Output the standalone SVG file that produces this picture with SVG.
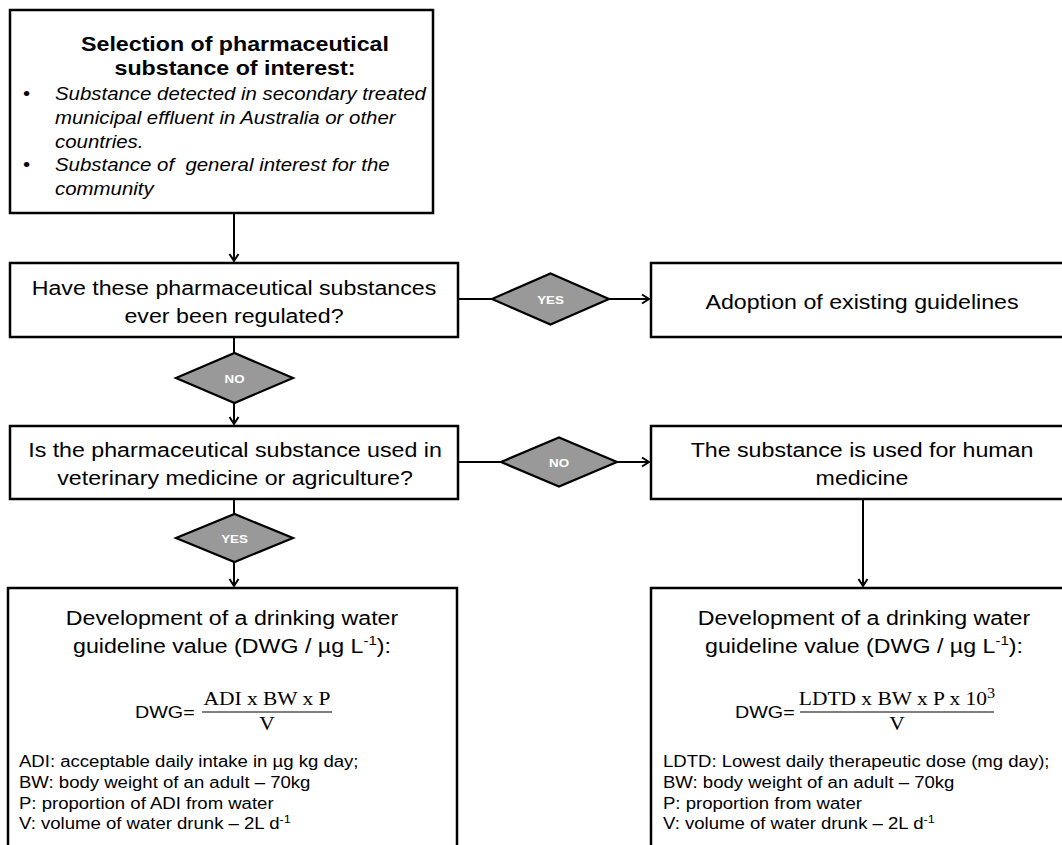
<svg xmlns="http://www.w3.org/2000/svg" width="1062" height="845" viewBox="0 0 1062 845">
<style>
.box{fill:#fff;stroke:#000;stroke-width:2.5}
.dia{fill:#999;stroke:#000;stroke-width:2.2}
.t{font-family:"Liberation Sans",Arial,sans-serif;font-size:20px;fill:#000}
.c{text-anchor:middle}
.b{font-weight:bold}
.i{font-style:italic;font-size:17.6px}
.lbl{font-family:"Liberation Sans",Arial,sans-serif;font-size:11.5px;font-weight:bold;fill:#fff;text-anchor:middle}
.d{font-family:"Liberation Sans",Arial,sans-serif;font-size:16px;fill:#000}
.f{font-family:"Liberation Sans",Arial,sans-serif;font-size:17px;fill:#000}
.s{font-family:"Liberation Serif","Times New Roman",serif;font-size:18.5px;fill:#000;text-anchor:middle}
.con{fill:none;stroke:#000;stroke-width:2}
.bar{stroke:#000;stroke-width:1.2}
</style>
<defs>
<marker id="arr" markerWidth="12" markerHeight="12" refX="9" refY="6" orient="auto" markerUnits="userSpaceOnUse">
<path d="M2,1.5 L9,6 L2,10.5" fill="none" stroke="#000" stroke-width="2"/>
</marker>
</defs>

<g id="connectors">
<path class="con" d="M234,213 V261" marker-end="url(#arr)"/>
<path class="con" d="M458,299 H492"/>
<path class="con" d="M609,299 H649" marker-end="url(#arr)"/>
<path class="con" d="M234,337 V353"/>
<path class="con" d="M234,403 V424" marker-end="url(#arr)"/>
<path class="con" d="M458,462 H501"/>
<path class="con" d="M617,462 H649" marker-end="url(#arr)"/>
<path class="con" d="M234,499 V514"/>
<path class="con" d="M234,562 V586" marker-end="url(#arr)"/>
<path class="con" d="M863,499 V586" marker-end="url(#arr)"/>
</g>

<g id="node-selection">
<rect class="box" x="10" y="10" width="423" height="203"/>
<text class="t c b" transform="translate(235,51) scale(1.16,1)">Selection of pharmaceutical</text>
<text class="t c b" transform="translate(235,75) scale(1.16,1)">substance of interest:</text>
<text class="t" style="font-size:17.6px" transform="translate(23,100) scale(1.16,1)">•</text>
<text class="t i" transform="translate(55,100) scale(1.16,1)">Substance detected in secondary treated</text>
<text class="t i" transform="translate(55,123.8) scale(1.16,1)">municipal effluent in Australia or other</text>
<text class="t i" transform="translate(55,147.5) scale(1.16,1)">countries.</text>
<text class="t" style="font-size:17.6px" transform="translate(23,171.3) scale(1.16,1)">•</text>
<text class="t i" transform="translate(55,171.3) scale(1.16,1)">Substance of&#160; general interest for the</text>
<text class="t i" transform="translate(55,195) scale(1.16,1)">community</text>
</g>

<g id="node-regulated">
<rect class="box" x="10" y="263" width="448" height="74"/>
<text class="t c" transform="translate(234,295) scale(1.16,1)">Have these pharmaceutical substances</text>
<text class="t c" transform="translate(234,323) scale(1.16,1)">ever been regulated?</text>
</g>

<g id="node-yes1">
<polygon class="dia" points="492,299 550.5,273.5 609,299 550.5,324.5"/>
<text class="lbl" transform="translate(550.5,303.5) scale(1.16,1)">YES</text>
</g>

<g id="node-adoption">
<rect class="box" x="651" y="263" width="430" height="74"/>
<text class="t c" transform="translate(862,309) scale(1.16,1)">Adoption of existing guidelines</text>
</g>

<g id="node-no1">
<polygon class="dia" points="176,378 234.5,353 293,378 234.5,403"/>
<text class="lbl" transform="translate(234.5,382.5) scale(1.16,1)">NO</text>
</g>

<g id="node-veterinary">
<rect class="box" x="10" y="426" width="448" height="73"/>
<text class="t c" transform="translate(235,457) scale(1.16,1)">Is the pharmaceutical substance used in</text>
<text class="t c" transform="translate(235,485) scale(1.16,1)">veterinary medicine or agriculture?</text>
</g>

<g id="node-no2">
<polygon class="dia" points="501,462 559,437.5 617,462 559,486.5"/>
<text class="lbl" transform="translate(559,466.5) scale(1.16,1)">NO</text>
</g>

<g id="node-human">
<rect class="box" x="651" y="426" width="430" height="73"/>
<text class="t c" transform="translate(862,457) scale(1.16,1)">The substance is used for human</text>
<text class="t c" transform="translate(862,485) scale(1.16,1)">medicine</text>
</g>

<g id="node-yes2">
<polygon class="dia" points="176,538 234.5,514 293,538 234.5,562"/>
<text class="lbl" transform="translate(234.5,542.5) scale(1.16,1)">YES</text>
</g>

<g id="node-dwg-adi">
<rect class="box" x="8" y="588" width="449" height="270"/>
<text class="t c" transform="translate(232,625) scale(1.16,1)">Development of a drinking water</text>
<text class="t c" transform="translate(232,653) scale(1.16,1)">guideline value (DWG / µg L<tspan font-size="13" dy="-8">-1</tspan><tspan dy="8">):</tspan></text>
<text class="f" transform="translate(135,718) scale(1.16,1)">DWG=</text>
<text class="s" transform="translate(267,705) scale(1.16,1)">ADI x BW x P</text>
<line class="bar" x1="202" y1="712" x2="332" y2="712"/>
<text class="s" transform="translate(267,730) scale(1.16,1)">V</text>
<text class="d" transform="translate(19,767) scale(1.16,1)">ADI: acceptable daily intake in µg kg day;</text>
<text class="d" transform="translate(19,788) scale(1.16,1)">BW: body weight of an adult – 70kg</text>
<text class="d" transform="translate(19,809) scale(1.16,1)">P: proportion of ADI from water</text>
<text class="d" transform="translate(19,829) scale(1.16,1)">V: volume of water drunk – 2L d<tspan font-size="11" dy="-6">-1</tspan></text>
</g>

<g id="node-dwg-ldtd">
<rect class="box" x="651" y="588" width="430" height="270"/>
<text class="t c" transform="translate(864,625) scale(1.16,1)">Development of a drinking water</text>
<text class="t c" transform="translate(864,653) scale(1.16,1)">guideline value (DWG / µg L<tspan font-size="13" dy="-8">-1</tspan><tspan dy="8">):</tspan></text>
<text class="f" transform="translate(735,718) scale(1.16,1)">DWG=</text>
<text class="s" transform="translate(897,705) scale(1.16,1)">LDTD x BW x P x 10<tspan font-size="14" dy="-7">3</tspan></text>
<line class="bar" x1="800" y1="712" x2="994" y2="712"/>
<text class="s" transform="translate(897,730) scale(1.16,1)">V</text>
<text class="d" transform="translate(663,767) scale(1.16,1)">LDTD: Lowest daily therapeutic dose (mg day);</text>
<text class="d" transform="translate(663,788) scale(1.16,1)">BW: body weight of an adult – 70kg</text>
<text class="d" transform="translate(663,809) scale(1.16,1)">P: proportion from water</text>
<text class="d" transform="translate(663,829) scale(1.16,1)">V: volume of water drunk – 2L d<tspan font-size="11" dy="-6">-1</tspan></text>
</g>
</svg>
